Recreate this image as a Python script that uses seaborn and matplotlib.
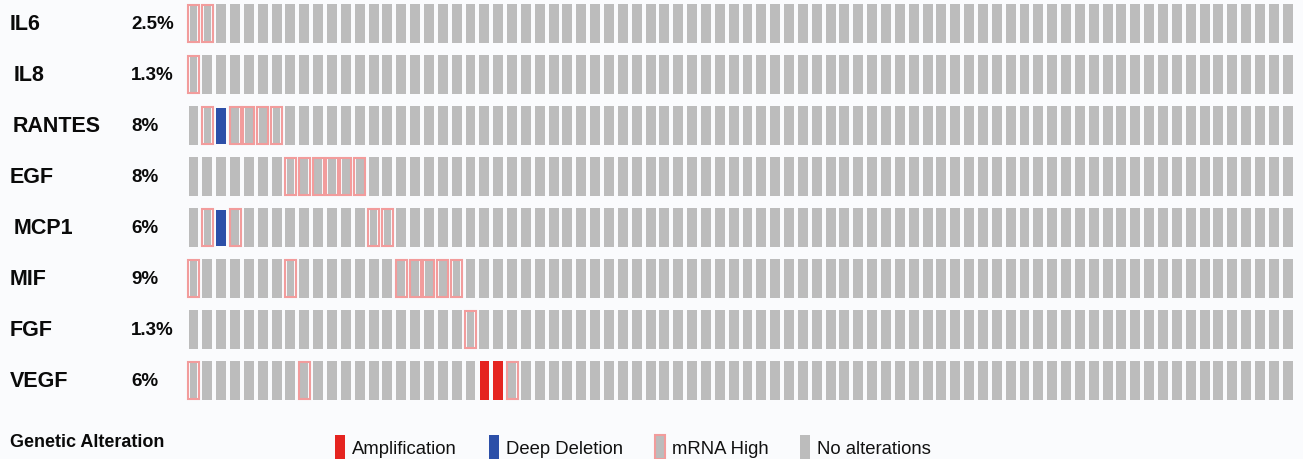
import matplotlib
matplotlib.use("Agg")

import numpy as np
import matplotlib.pyplot as plt
import seaborn as sns
from matplotlib.patches import Patch

# =====================
# DATA
# =====================
genes = ["IL6", "IL8", "RANTES", "EGF", "MCP1", "MIF", "FGF", "VEGF"]
pct_labels = ["2.5%", "1.3%", "8%", "8%", "6%", "9%", "1.3%", "6%"]
n_samples = 80

# sample indices (0-based) with each alteration, per gene
mrna_high = {
    "IL6": [0, 1],
    "IL8": [0],
    "RANTES": [1, 3, 4, 5, 6],
    "EGF": [7, 8, 9, 10, 11, 12],
    "MCP1": [1, 3, 13, 14],
    "MIF": [0, 7, 15, 16, 17, 18, 19],
    "FGF": [20],
    "VEGF": [0, 8, 23],
}
deep_deletion = {"RANTES": [2], "MCP1": [2]}
amplification = {"VEGF": [21, 22]}

legend_labels = ["Amplification", "Deep Deletion", "mRNA High", "No alterations"]

# =====================
# STYLE
# =====================
GREY = "#bcbcbc"
PINK = "#f29c9c"
BLUE = "#2c4fa8"
RED = "#e52420"
BG = "#fafbfd"
INK = "#0a0a0a"

sns.set_theme(style="white")
plt.rcParams["font.family"] = ["Liberation Sans", "DejaVu Sans"]

# code matrix: 0 none, 1 mRNA high, 2 deep deletion, 3 amplification
codes = np.zeros((len(genes), n_samples), dtype=int)
for r, g in enumerate(genes):
    codes[r, mrna_high.get(g, [])] = 1
    codes[r, deep_deletion.get(g, [])] = 2
    codes[r, amplification.get(g, [])] = 3

W, H = 1303, 460
fig = plt.figure(figsize=(W / 100, H / 100), dpi=100, facecolor=BG)
ax = fig.add_axes([0, 0, 1, 1])
ax.set_facecolor(BG)

# pixel layout -> data limits (column pitch / row pitch)
col0, pitch = 193.5, 13.85
row0, rpitch = 24.5, 51.0
ax.set_xlim(-col0 / pitch, (W - col0) / pitch)
ax.set_ylim((H - row0) / rpitch, -row0 / rpitch)
ax.axis("off")

cell_h = 0.75

# =====================
# CELLS
# =====================
rows, cols = np.nonzero(codes == 0)
ax.bar(cols, cell_h, bottom=rows - cell_h / 2, width=0.72, color=GREY, linewidth=0)

rows, cols = np.nonzero(codes == 1)
ax.bar(cols, cell_h, bottom=rows - cell_h / 2, width=0.55, color=GREY, linewidth=0)
ax.bar(cols, cell_h - 0.02, bottom=rows - (cell_h - 0.02) / 2, width=0.8,
       facecolor="none", edgecolor=PINK, linewidth=1.5)

rows, cols = np.nonzero(codes == 2)
ax.bar(cols, 0.71, bottom=rows - 0.34, width=0.68, color=BLUE, linewidth=0)

rows, cols = np.nonzero(codes == 3)
ax.bar(cols, cell_h, bottom=rows - cell_h / 2, width=0.7, color=RED, linewidth=0)

# =====================
# LABELS
# =====================
indent = {"IL8": 4, "RANTES": 3, "MCP1": 4}
tr = ax.get_yaxis_transform()  # x in axes fraction, y in data
for r, (g, p) in enumerate(zip(genes, pct_labels)):
    ax.text((10 + indent.get(g, 0)) / W, r, g, transform=tr, ha="left", va="center",
            fontsize=15.5, fontweight="bold", color=INK)
    ax.text(131 / W, r, p, transform=tr, ha="left", va="center",
            fontsize=13.5, fontweight="bold", color=INK)

fig.text(10 / W, 1 - 443 / H, "Genetic Alteration", ha="left", va="center",
         fontsize=13, fontweight="bold", color=INK)

handles = [
    Patch(facecolor=RED, edgecolor="none"),
    Patch(facecolor=BLUE, edgecolor="none"),
    Patch(facecolor=GREY, edgecolor=PINK, linewidth=1.5),
    Patch(facecolor=GREY, edgecolor="none"),
]
fig.legend(handles, legend_labels, loc="center left",
           bbox_to_anchor=(335 / W, 1 - 448 / H), ncol=4, frameon=False,
           fontsize=13.3, handlelength=0.54, handleheight=1.6,
           handletextpad=0.38, columnspacing=1.73, borderpad=0,
           borderaxespad=0, labelcolor="#111111")

fig.savefig("out.png", dpi=100, facecolor=BG)
